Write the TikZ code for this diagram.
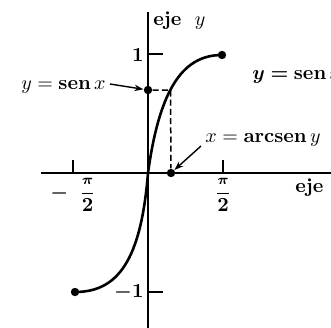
\documentclass[tikz,border=0pt]{standalone}
\usepackage{amsmath,bm}
\usetikzlibrary{arrows.meta}
\begin{document}
\begin{tikzpicture}[x=0.5pt,y=-0.5pt,
  axis/.style={line width=0.75pt},
  curve/.style={line width=1.3pt},
  dot/.style={circle,fill,inner sep=0pt,minimum size=4.2pt},
  lab/.style={inner sep=0pt,font=\fontsize{10}{12}\selectfont},
  pointer/.style={line width=0.7pt,-{Stealth[length=4.5pt,width=3.2pt]}},
  guide/.style={line width=0.75pt,dash pattern=on 3pt off 1.6pt}]
\useasboundingbox (0,0) rectangle (331,327);
% axes
\coordinate (xl) at (41,173);
\coordinate (xr) at (340,173);
\coordinate (yt) at (148,12);
\coordinate (yb) at (148,330);
\draw[axis] (xl) -- (xr);
\draw[axis] (yt) -- (yb);
% ticks
\coordinate (t1a) at (148,54);  \coordinate (t1b) at (163,54);
\coordinate (t2a) at (148,292); \coordinate (t2b) at (163,292);
\coordinate (t3a) at (73,173);  \coordinate (t3b) at (73,160);
\coordinate (t4a) at (223,173); \coordinate (t4b) at (223,160);
\draw[axis] (t1a) -- (t1b);
\draw[axis] (t2a) -- (t2b);
\draw[axis] (t3a) -- (t3b);
\draw[axis] (t4a) -- (t4b);
% dots
\node[dot] (e1) at (222,55) {};
\node[dot] (e2) at (75,292) {};
\node[dot] (d1) at (148,90) {};
\node[dot] (d4) at (171,173) {};
\coordinate (o) at (148,173);
\coordinate (p) at (170.5,90);
% curve
\draw[curve] (e2.center) .. controls (118,292) and (141,260) .. (o)
  .. controls (160,85) and (185,55) .. (e1.center);
\draw[guide] (d1) -- (p) -- (d4);
% labels
\node[lab,anchor=west] (ey) at (153,21) {\textbf{eje}\ \ $y$};
\node[lab,anchor=west] (ex) at (295,188) {\textbf{eje}\ \ $x$};
\node[lab,anchor=east] (one) at (144,55) {$\mathbf{1}$};
\node[lab,anchor=east] (mone) at (144,292) {$\bm{-}\mathbf{1}$};
\node[lab] (mpi) at (73,195) {$\bm{-}\;\;\dfrac{\scriptstyle\bm{\pi}}{\mathbf{2}}$};
\node[lab] (ppi) at (223,195) {$\dfrac{\scriptstyle\bm{\pi}}{\mathbf{2}}$};
\node[lab,anchor=east] (ls) at (106,87) {$y=\mathbf{sen}\,x$};
\node[lab,anchor=west] (rs) at (252,77) {$\bm{y}\bm{=}\mathbf{sen}\,\bm{x}$};
\node[lab,anchor=west] (la) at (205,140) {$x=\mathbf{arcsen}\,y$};
% pointers
\coordinate (s1) at (110,84);
\coordinate (s2) at (201,146);
\draw[pointer] (s1) -- (d1);
\draw[pointer] (s2) -- (d4);
\end{tikzpicture}
\end{document}
